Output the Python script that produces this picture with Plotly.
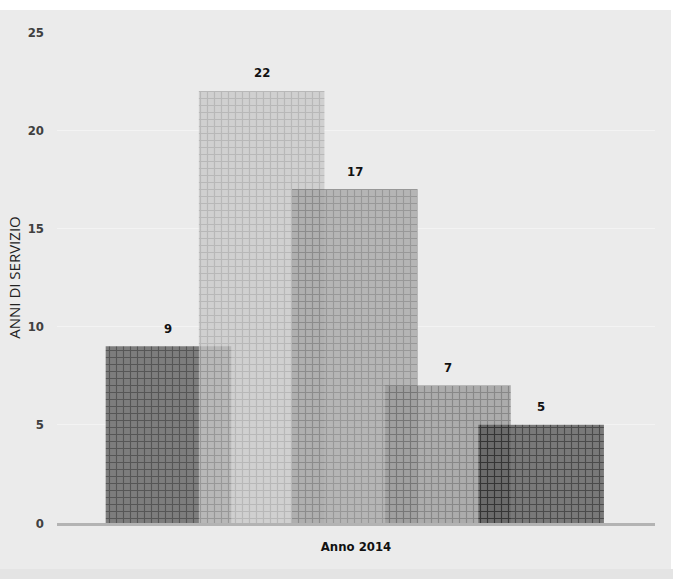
import plotly.graph_objects as go

# Years of service recorded for 2014, one bar per person
category = "Anno 2014"
values = [9, 22, 17, 7, 5]
y_ticks = [0, 5, 10, 15, 20, 25]

# Patterned grey fills (background tone, grid line tone) per bar
fill_bg = ["#5e5e5e", "#c8c8c8", "#a6a6a6", "#9a9a9a", "#595959"]
fill_fg = ["#2c2c2c", "#aaaaaa", "#808080", "#6c6c6c", "#1e1e1e"]

bar_width = 0.21
bar_step = 0.1558
n = len(values)
centers = [(i - (n - 1) / 2) * bar_step - 0.002 for i in range(n)]

num_font = "Liberation Sans Narrow, DejaVu Sans Condensed, Open Sans, sans-serif"

fig = go.Figure()
for i, v in enumerate(values):
    fig.add_trace(go.Bar(
        x=[category],
        y=[v],
        width=bar_width,
        offset=centers[i] - bar_width / 2,
        marker=dict(
            color=fill_bg[i],
            opacity=0.78,
            line=dict(width=0),
            pattern=dict(shape="+", fgcolor=fill_fg[i], bgcolor=fill_bg[i],
                         fillmode="replace", size=7, solidity=0.3),
        ),
        showlegend=False,
        hoverinfo="skip",
    ))
    fig.add_annotation(
        x=centers[i], y=v, xref="x", yref="y",
        text=f"<b>{v}</b>", showarrow=False,
        yshift=18, yanchor="middle",
        font=dict(family=num_font, size=13, color="#111111"),
    )

# Panel behind the chart
fig.add_shape(type="rect", xref="paper", yref="paper",
              x0=-57 / 598, x1=(671 - 57) / 598,
              y0=-(569 - 523) / 491, y1=(523 - 10) / 491,
              fillcolor="#ebebeb", line=dict(width=0), layer="below")
fig.add_shape(type="rect", xref="paper", yref="paper",
              x0=-57 / 598, x1=(673 - 57) / 598,
              y0=-(579 - 523) / 491, y1=-(569 - 523) / 491,
              fillcolor="#e4e4e4", line=dict(width=0), layer="below")

fig.update_layout(
    width=673, height=579,
    margin=dict(l=57, r=18, t=32, b=56),
    paper_bgcolor="#ffffff",
    plot_bgcolor="rgba(0,0,0,0)",
    barmode="overlay",
    xaxis=dict(
        type="category",
        range=[-0.5, 0.5],
        showgrid=False,
        showline=True, linecolor="#b3b3b3", linewidth=2.5,
        ticks="", ticklabelstandoff=10,
        tickfont=dict(family=num_font, size=13, color="#111111"),
        tickvals=[category], ticktext=[f"<b>{category}</b>"],
        zeroline=False,
    ),
    yaxis=dict(
        range=[0, 25],
        tickvals=y_ticks,
        ticktext=[f"<b>{t}</b>" for t in y_ticks],
        tickfont=dict(family=num_font, size=13, color="#404040"),
        ticklabelstandoff=12,
        showgrid=True, gridcolor="#f3f3f3", gridwidth=1,
        zeroline=False,
        showline=False,
        title=dict(text="ANNI DI SERVIZIO", standoff=3,
                   font=dict(family="Open Sans, sans-serif", size=15, color="#222222")),
    ),
)

fig.write_html("out.html")
